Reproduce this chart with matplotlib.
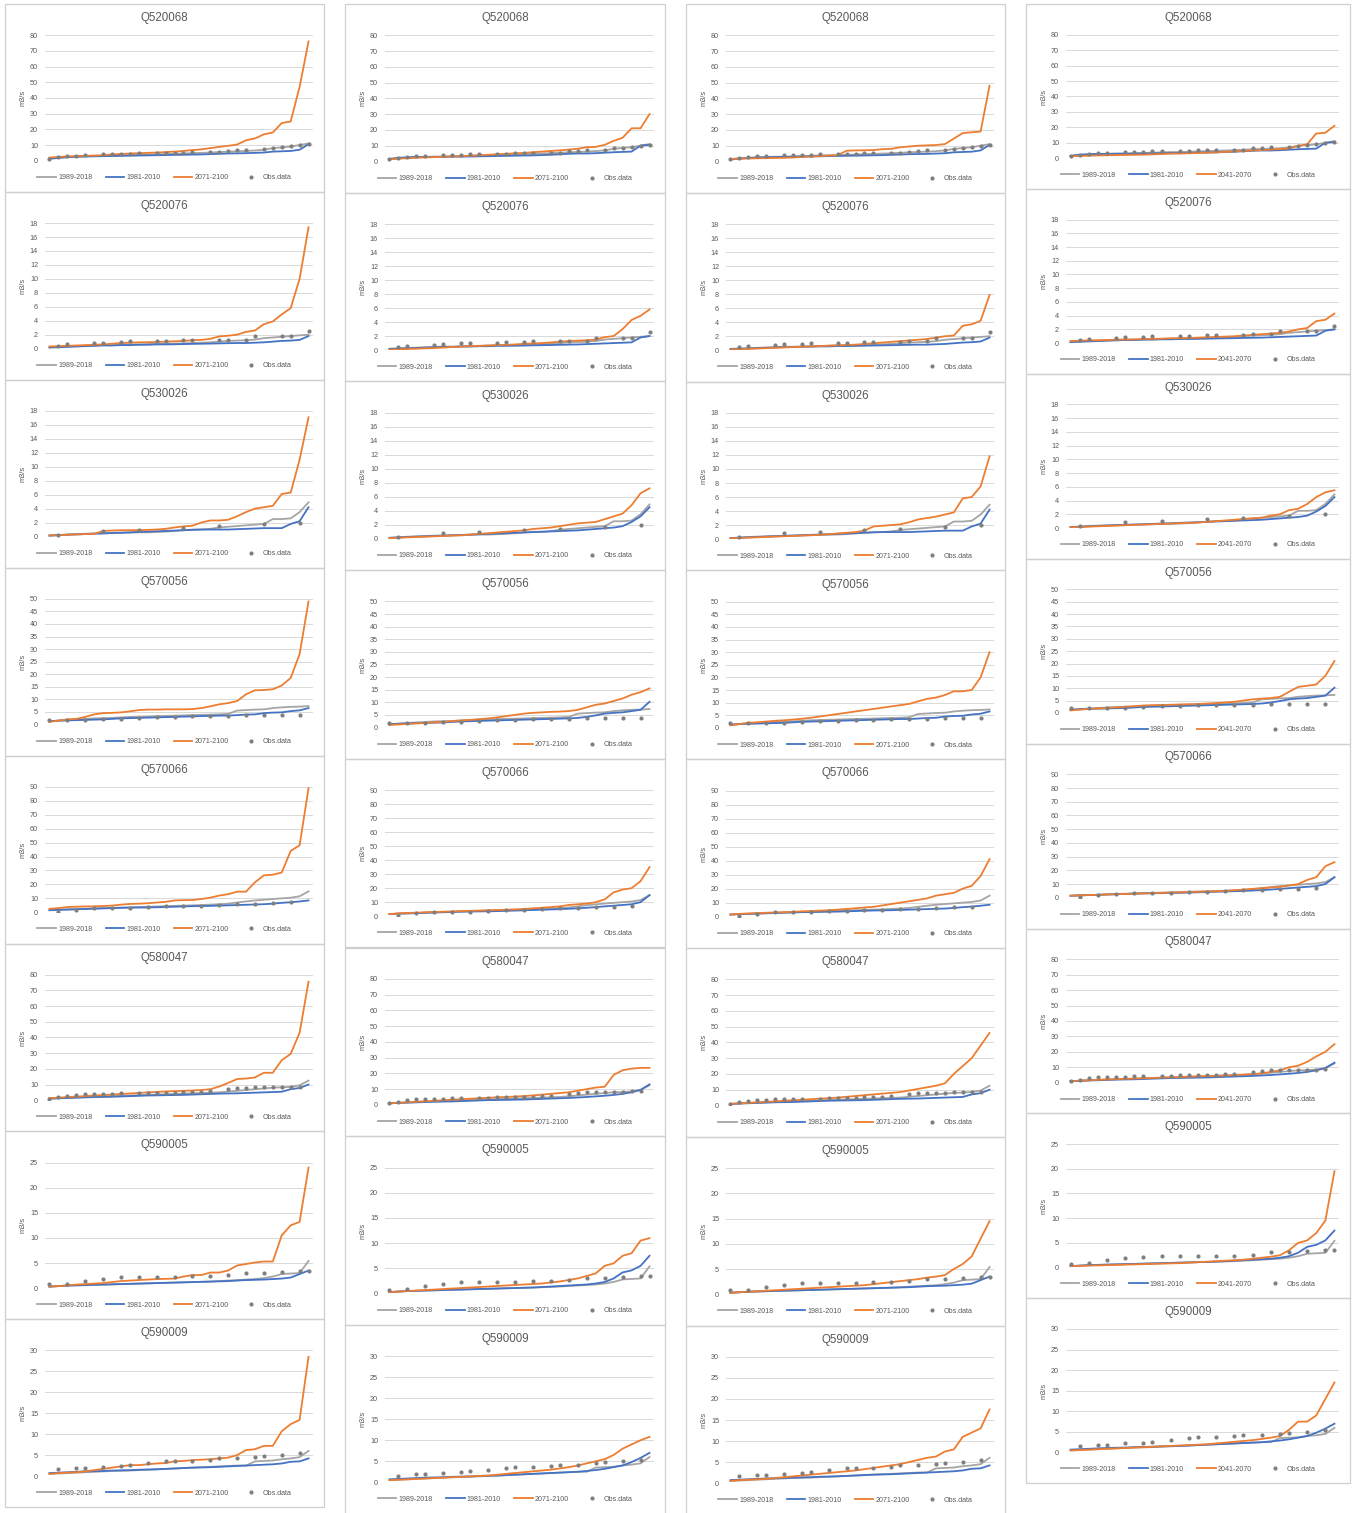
import numpy as np
import matplotlib
matplotlib.use("Agg")
import matplotlib.pyplot as plt
from matplotlib.patches import Rectangle

nan = np.nan

stations = ["Q520068", "Q520076", "Q530026", "Q570056", "Q570066", "Q580047", "Q590005", "Q590009"]
y_max = [80, 18, 18, 50, 90, 80, 25, 30]
y_step = [10, 2, 2, 5, 10, 10, 5, 5]
future_labels = ["2071-2100", "2071-2100", "2071-2100", "2041-2070"]
hist_labels = ["1989-2018", "1981-2010", "Obs.data"]

# ---------------- Q520068 ----------------
q520068_gray = [1.5, 2, 2.3, 2.6, 2.8, 3, 3, 3.2, 3.4, 3.6, 3.8, 4, 4, 4.2, 4.4, 4.6, 4.8, 5, 5.2, 5.5, 5.8, 6, 6.2, 6.5, 7, 8, 8.5, 9, 10, 11]
q520068_blue_a = [1.2, 1.8, 2.2, 2.5, 2.7, 2.8, 2.9, 3, 3.1, 3.2, 3.3, 3.4, 3.5, 3.6, 3.7, 3.8, 3.9, 4, 4.2, 4.4, 4.6, 4.7, 4.8, 5, 5.2, 5.8, 6, 6.2, 7, 10.5]
q520068_blue_b = [1.5, 2.3, 2.6, 2.8, 2.8, 2.9, 2.9, 3.0, 3.0, 3.1, 3.2, 3.3, 3.4, 3.5, 3.6, 3.7, 3.8, 4.0, 4.2, 4.5, 4.8, 5.0, 5.0, 5.2, 5.5, 5.8, 6.0, 6.2, 10, 10.5]
q520068_obs = [1.3, 2.2, 2.7, 3.2, 3.4, nan, 4, 4.1, 4.2, 4.4, 4.6, nan, 4.7, 4.8, 5, 5.1, 5.3, nan, 5.4, 5.6, 6.3, 6.6, 7.1, nan, 7.5, 8.2, 8.8, 9.3, 9.8, 10.7]
q520068_fut1 = [2, 2.4, 2.7, 3, 3.1, 3.3, 3.5, 4, 4.3, 4.6, 4.8, 5, 5.2, 5.5, 5.8, 6.2, 6.8, 7.2, 8, 8.8, 9.5, 10.3, 13, 14.2, 16.8, 18, 24, 25, 47, 76]
q520068_fut2 = [1.3, 1.7, 2.0, 2.3, 2.5, 2.7, 2.9, 3.1, 3.3, 3.6, 3.9, 4.2, 4.5, 4.8, 5.1, 5.4, 5.8, 6.2, 6.6, 7.0, 7.5, 8.0, 9.0, 9.2, 10.5, 13, 15, 21, 21, 30]
q520068_fut3 = [1.5, 1.7, 1.9, 2.0, 2.1, 2.2, 2.3, 2.5, 2.8, 3.1, 3.4, 3.7, 4.0, 6.8, 7, 7.1, 7.2, 7.8, 8, 9, 9.5, 10, 10.2, 10.4, 11, 14.5, 18, 18.5, 19, 48]
q520068_fut4 = [1.3, 1.5, 1.6, 1.8, 1.9, 2.0, 2.1, 2.2, 2.3, 2.5, 2.7, 2.9, 3.0, 3.2, 3.4, 3.6, 3.8, 4.1, 4.4, 4.7, 5.0, 5.3, 5.6, 5.9, 6.3, 8.0, 9.0, 16, 16.5, 21]

# ---------------- Q520076 ----------------
q520076_gray = [0.2, 0.25, 0.3, 0.35, 0.4, 0.45, 0.5, 0.5, 0.55, 0.6, 0.6, 0.65, 0.7, 0.7, 0.72, 0.75, 0.8, 0.85, 0.9, 1.0, 1.1, 1.15, 1.2, 1.3, 1.5, 1.6, 1.7, 1.8, 1.9, 2.0]
q520076_blue_a = [0.15, 0.2, 0.25, 0.3, 0.35, 0.4, 0.45, 0.45, 0.5, 0.5, 0.55, 0.55, 0.6, 0.6, 0.62, 0.65, 0.68, 0.7, 0.72, 0.75, 0.78, 0.8, 0.8, 0.85, 0.9, 1.0, 1.1, 1.15, 1.25, 1.8]
q520076_blue_b = [0.15, 0.2, 0.25, 0.3, 0.35, 0.4, 0.45, 0.45, 0.5, 0.5, 0.55, 0.55, 0.6, 0.6, 0.62, 0.65, 0.68, 0.7, 0.72, 0.75, 0.78, 0.8, 0.85, 0.9, 0.95, 1.0, 1.05, 1.1, 1.8, 2.0]
q520076_obs = [nan, 0.4, 0.6, nan, nan, 0.75, 0.85, nan, 0.95, 1.05, nan, nan, 1.05, 1.1, nan, 1.2, 1.25, nan, nan, 1.25, 1.3, nan, 1.3, 1.75, nan, nan, 1.75, 1.75, nan, 2.55]
q520076_fut1 = [0.3, 0.35, 0.4, 0.45, 0.5, 0.55, 0.6, 0.7, 0.8, 0.85, 0.9, 0.92, 0.95, 1.0, 1.05, 1.1, 1.2, 1.25, 1.4, 1.75, 1.85, 2.0, 2.4, 2.6, 3.5, 3.9, 4.9, 5.8, 10, 17.4]
q520076_fut2 = [0.05, 0.1, 0.15, 0.2, 0.25, 0.3, 0.35, 0.45, 0.5, 0.55, 0.6, 0.65, 0.7, 0.75, 0.8, 0.9, 0.95, 1.0, 1.1, 1.2, 1.3, 1.35, 1.4, 1.5, 1.85, 2.0, 3.0, 4.3, 4.9, 5.8]
q520076_fut3 = [0.1, 0.15, 0.2, 0.25, 0.3, 0.35, 0.4, 0.45, 0.5, 0.55, 0.6, 0.65, 0.7, 0.75, 0.8, 0.9, 1.0, 1.1, 1.2, 1.3, 1.4, 1.5, 1.6, 1.8, 2.0, 2.1, 3.5, 3.7, 4.2, 7.9]
q520076_fut4 = [0.3, 0.35, 0.4, 0.42, 0.45, 0.5, 0.52, 0.55, 0.6, 0.62, 0.65, 0.7, 0.72, 0.75, 0.8, 0.85, 0.9, 0.95, 1.0, 1.1, 1.2, 1.3, 1.4, 1.5, 1.7, 2.0, 2.2, 3.2, 3.4, 4.3]

# ---------------- Q530026 ----------------
q530026_gray = [0.1, 0.2, 0.3, 0.35, 0.4, 0.45, 0.45, 0.5, 0.5, 0.55, 0.6, 0.6, 0.65, 0.7, 0.8, 0.9, 1.0, 1.0, 1.1, 1.3, 1.4, 1.5, 1.6, 1.7, 1.8, 2.5, 2.5, 2.6, 3.5, 4.9]
q530026_blue_a = [0.15, 0.2, 0.25, 0.3, 0.35, 0.4, 0.45, 0.5, 0.55, 0.6, 0.65, 0.7, 0.75, 0.8, 0.85, 0.9, 0.95, 1.0, 1.0, 1.0, 1.0, 1.05, 1.1, 1.15, 1.2, 1.2, 1.2, 1.8, 2.2, 4.2]
q530026_blue_b = [0.15, 0.2, 0.25, 0.3, 0.35, 0.4, 0.45, 0.5, 0.55, 0.6, 0.65, 0.7, 0.75, 0.8, 0.85, 0.9, 0.95, 1.0, 1.05, 1.1, 1.15, 1.2, 1.3, 1.4, 1.5, 1.6, 1.8, 2.4, 3.2, 4.5]
q530026_obs = [nan, 0.25, nan, nan, nan, nan, 0.85, nan, nan, nan, 1.0, nan, nan, nan, nan, 1.25, nan, nan, nan, 1.45, nan, nan, nan, nan, 1.75, nan, nan, nan, 2.0, nan]
q530026_fut1 = [0.15, 0.2, 0.25, 0.3, 0.35, 0.38, 0.8, 0.85, 0.9, 0.9, 0.92, 0.95, 1.0, 1.1, 1.3, 1.45, 1.55, 2.0, 2.3, 2.3, 2.4, 2.9, 3.5, 4.0, 4.2, 4.4, 6.1, 6.3, 11, 17.1]
q530026_fut2 = [0.1, 0.15, 0.2, 0.25, 0.3, 0.35, 0.4, 0.45, 0.5, 0.6, 0.7, 0.8, 0.9, 1.0, 1.1, 1.2, 1.4, 1.5, 1.6, 1.8, 2.0, 2.2, 2.3, 2.4, 2.8, 3.2, 3.6, 4.8, 6.5, 7.2]
q530026_fut3 = [0.1, 0.15, 0.2, 0.25, 0.3, 0.35, 0.4, 0.45, 0.5, 0.55, 0.6, 0.7, 0.8, 0.9, 1.0, 1.2, 1.8, 1.9, 2.0, 2.1, 2.4, 2.8, 3.0, 3.2, 3.5, 3.8, 5.8, 6.0, 7.5, 11.8]
q530026_fut4 = [0.1, 0.15, 0.2, 0.25, 0.3, 0.35, 0.4, 0.45, 0.5, 0.55, 0.6, 0.65, 0.7, 0.75, 0.8, 0.9, 1.0, 1.1, 1.2, 1.3, 1.4, 1.5, 1.8, 2.0, 2.6, 2.8, 3.5, 4.5, 5.2, 5.5]

# ---------------- Q570056 ----------------
q570056_gray = [1.2, 1.5, 1.8, 2.0, 2.2, 2.4, 2.5, 2.6, 2.8, 3.0, 3.1, 3.2, 3.3, 3.4, 3.5, 3.6, 3.7, 3.8, 3.9, 4.0, 4.2, 5.5, 5.7, 5.9, 6.0, 6.5, 6.8, 7.0, 7.1, 7.3]
q570056_blue_a = [1.3, 1.5, 1.6, 1.7, 1.8, 1.9, 2.0, 2.2, 2.4, 2.5, 2.6, 2.7, 2.8, 2.9, 3.0, 3.1, 3.2, 3.3, 3.4, 3.5, 3.5, 3.7, 3.9, 4.0, 4.5, 4.7, 4.8, 5.3, 5.6, 6.5]
q570056_blue_b = [1.3, 1.5, 1.6, 1.7, 1.8, 1.9, 2.0, 2.2, 2.4, 2.5, 2.6, 2.7, 2.8, 2.9, 3.0, 3.1, 3.2, 3.3, 3.4, 3.5, 3.6, 3.8, 4.2, 4.8, 5.5, 5.8, 6.0, 6.5, 7.0, 10.2]
q570056_obs = [1.8, nan, 1.8, nan, 1.9, nan, 2.0, nan, 2.3, nan, 2.6, nan, 2.9, nan, 3.0, nan, 3.3, nan, 3.4, nan, 3.4, nan, 3.6, nan, 3.8, nan, 3.8, nan, 3.8, nan]
q570056_fut1 = [1.0, 1.5, 2.0, 2.2, 3.0, 4.0, 4.5, 4.6, 4.8, 5.2, 5.7, 5.9, 5.9, 6.0, 6.0, 6.0, 6.1, 6.5, 7.2, 8.0, 8.5, 9.3, 12, 13.6, 13.7, 14, 15.5, 18.5, 28, 49]
q570056_fut2 = [1.0, 1.2, 1.4, 1.6, 1.8, 2.0, 2.2, 2.5, 2.8, 3.0, 3.3, 3.6, 4.0, 4.5, 5.0, 5.5, 5.8, 6.0, 6.2, 6.3, 6.5, 7.0, 8.0, 9.0, 9.5, 10.5, 11.5, 13, 14, 15.5]
q570056_fut3 = [1.0, 1.5, 2.0, 2.2, 2.5, 2.8, 3.0, 3.3, 3.6, 4.0, 4.5, 5.0, 5.5, 6.0, 6.5, 7.0, 7.5, 8.0, 8.5, 9.0, 9.5, 10.5, 11.5, 12, 13, 14.5, 14.5, 15, 20, 30]
q570056_fut4 = [1.0, 1.3, 1.6, 1.8, 2.0, 2.2, 2.5, 2.7, 3.0, 3.1, 3.2, 3.3, 3.4, 3.5, 3.6, 3.8, 4.0, 4.2, 4.5, 5.0, 5.5, 5.8, 6.0, 6.5, 8.5, 10.5, 11, 11.5, 15, 21]

# ---------------- Q570066 ----------------
q570066_gray = [1.5, 1.8, 2.0, 2.2, 2.5, 2.8, 3.0, 3.2, 3.4, 3.6, 3.8, 4.0, 4.2, 4.4, 4.6, 4.8, 5.0, 5.2, 5.5, 5.8, 6.2, 7.0, 7.8, 8.5, 9.0, 9.5, 10, 10.5, 11.5, 15]
q570066_blue_a = [1.5, 1.8, 2.0, 2.2, 2.4, 2.6, 2.8, 3.0, 3.2, 3.3, 3.4, 3.5, 3.6, 3.8, 4.0, 4.2, 4.4, 4.5, 4.6, 4.8, 5.0, 5.2, 5.4, 5.6, 5.8, 6.2, 6.8, 7.2, 7.8, 8.5]
q570066_blue_b = [1.5, 1.8, 2.0, 2.2, 2.4, 2.6, 2.8, 3.0, 3.2, 3.3, 3.4, 3.5, 3.6, 3.8, 4.0, 4.2, 4.4, 4.6, 4.8, 5.0, 5.3, 5.6, 6.0, 6.5, 7.0, 7.5, 8.0, 8.5, 10, 15]
q570066_obs = [nan, 0.3, nan, 2.0, nan, 3.0, nan, 3.2, nan, 3.3, nan, 3.8, nan, 4.3, nan, 4.5, nan, 4.8, nan, 5.5, nan, 5.8, nan, 6.3, nan, 6.6, nan, 7.1, nan, nan]
q570066_fut1 = [2.5, 3.0, 3.8, 4.0, 4.2, 4.3, 4.5, 4.8, 5.5, 6.0, 6.2, 6.5, 7.0, 7.5, 8.5, 8.7, 8.8, 9.5, 10.5, 12, 13, 14.8, 14.8, 21.5, 26.5, 27, 28.5, 44, 48, 89]
q570066_fut2 = [1.5, 2.0, 2.3, 2.5, 2.8, 3.0, 3.2, 3.4, 3.6, 3.8, 4.0, 4.2, 4.4, 4.6, 4.8, 5.2, 5.6, 6.0, 6.5, 7.0, 8.0, 8.5, 9.0, 10, 12, 17, 19, 20, 25, 35]
q570066_fut3 = [1.5, 2.0, 2.3, 2.5, 2.8, 3.0, 3.2, 3.5, 3.8, 4.0, 4.3, 4.6, 5.0, 5.5, 6.0, 6.5, 7.0, 8.0, 9.0, 10, 11, 12, 13, 15, 16, 17, 20, 22, 29, 41]
q570066_fut4 = [1.5, 1.8, 2.0, 2.2, 2.4, 2.6, 2.8, 3.0, 3.2, 3.4, 3.6, 3.8, 4.0, 4.2, 4.4, 4.6, 4.8, 5.0, 5.5, 6.0, 6.5, 7.0, 7.5, 8.0, 9.0, 10, 13, 15, 23, 26]

# ---------------- Q580047 ----------------
q580047_gray = [1.0, 1.3, 1.6, 1.8, 2.0, 2.2, 2.4, 2.6, 2.8, 3.0, 3.2, 3.4, 3.6, 3.8, 4.0, 4.2, 4.4, 4.6, 4.8, 5.0, 5.5, 6.0, 6.5, 7.0, 7.5, 8.0, 8.2, 8.5, 9.5, 12.5]
q580047_blue_a = [1.0, 1.2, 1.4, 1.6, 1.8, 2.0, 2.1, 2.2, 2.4, 2.6, 2.8, 3.0, 3.1, 3.2, 3.3, 3.4, 3.6, 3.8, 4.0, 4.2, 4.3, 4.4, 4.6, 4.8, 5.0, 5.2, 5.4, 7.0, 7.8, 10]
q580047_blue_b = [1.0, 1.2, 1.4, 1.6, 1.8, 2.0, 2.1, 2.2, 2.4, 2.6, 2.8, 3.0, 3.1, 3.2, 3.3, 3.4, 3.6, 3.8, 4.0, 4.2, 4.4, 4.7, 5.0, 5.4, 5.8, 6.3, 7.0, 8.0, 9.5, 13]
q580047_obs = [1.0, 2.0, 3.0, 3.6, 3.7, 3.8, 4.0, 4.1, 4.3, nan, 4.4, 4.5, 4.7, 4.8, 4.9, 5.1, 5.3, 5.5, 5.8, nan, 7.0, 7.6, 8.0, 8.1, 8.2, 8.3, 8.4, 8.5, 8.7, nan]
q580047_fut1 = [1.3, 1.6, 2.0, 2.3, 2.6, 3.0, 3.3, 3.6, 4.0, 4.3, 4.6, 5.0, 5.3, 5.6, 5.8, 6.0, 6.2, 6.5, 7.0, 8.7, 11, 13.5, 13.8, 14.5, 17.5, 17.5, 25.5, 29.5, 43, 75.5]
q580047_fut2 = [1.0, 1.3, 1.6, 2.0, 2.3, 2.6, 3.0, 3.3, 3.6, 3.9, 4.2, 4.5, 4.8, 5.0, 5.3, 5.6, 6.0, 6.5, 7.0, 7.5, 8.0, 9.0, 10, 11, 11.5, 19, 22, 23, 23.5, 23.5]
q580047_fut3 = [1.0, 1.3, 1.6, 2.0, 2.3, 2.6, 3.0, 3.3, 3.6, 4.0, 4.3, 4.6, 5.0, 5.5, 6.0, 6.5, 7.0, 7.5, 8.0, 8.5, 9.5, 10.5, 11.5, 12.5, 14, 20, 25, 30, 38, 46]
q580047_fut4 = [1.0, 1.3, 1.6, 1.9, 2.1, 2.3, 2.5, 2.7, 2.9, 3.1, 3.3, 3.5, 3.7, 3.9, 4.1, 4.3, 4.5, 4.7, 5.0, 5.3, 5.6, 6.0, 7.0, 8.0, 10, 11, 13.5, 17, 20, 25]

# ---------------- Q590005 ----------------
q590005_gray = [0.3, 0.4, 0.5, 0.55, 0.6, 0.65, 0.7, 0.75, 0.8, 0.85, 0.9, 0.95, 1.0, 1.05, 1.1, 1.15, 1.2, 1.25, 1.3, 1.4, 1.5, 1.6, 1.7, 1.8, 2.0, 2.3, 2.8, 2.9, 3.0, 5.4]
q590005_blue_a = [0.3, 0.4, 0.5, 0.55, 0.6, 0.65, 0.7, 0.75, 0.8, 0.85, 0.9, 0.95, 1.0, 1.05, 1.1, 1.15, 1.2, 1.25, 1.3, 1.35, 1.4, 1.5, 1.6, 1.65, 1.7, 1.8, 1.9, 2.1, 2.8, 3.5]
q590005_blue_b = [0.3, 0.4, 0.5, 0.55, 0.6, 0.65, 0.7, 0.75, 0.8, 0.85, 0.9, 0.95, 1.0, 1.05, 1.1, 1.15, 1.2, 1.3, 1.4, 1.5, 1.6, 1.7, 1.8, 2.0, 2.3, 3.0, 4.2, 4.6, 5.5, 7.5]
q590005_obs = [0.8, nan, 0.9, nan, 1.5, nan, 1.9, nan, 2.2, nan, 2.3, nan, 2.3, nan, 2.3, nan, 2.4, nan, 2.4, nan, 2.6, nan, 3.1, nan, 3.1, nan, 3.3, nan, 3.5, 3.5]
q590005_fut1 = [0.3, 0.4, 0.55, 0.7, 0.8, 0.9, 1.0, 1.2, 1.4, 1.5, 1.6, 1.7, 1.8, 1.85, 1.9, 2.3, 2.6, 2.6, 3.1, 3.1, 3.5, 4.5, 4.8, 5.1, 5.3, 5.3, 10.5, 12.5, 13.2, 24]
q590005_fut2 = [0.3, 0.4, 0.5, 0.6, 0.7, 0.8, 0.9, 1.0, 1.1, 1.2, 1.3, 1.4, 1.5, 1.6, 1.7, 1.8, 1.9, 2.0, 2.2, 2.4, 2.7, 3.0, 3.5, 4.0, 5.5, 6.0, 7.5, 8.0, 10.5, 11]
q590005_fut3 = [0.3, 0.4, 0.5, 0.6, 0.7, 0.8, 0.9, 1.0, 1.1, 1.2, 1.3, 1.4, 1.5, 1.6, 1.7, 1.8, 2.0, 2.2, 2.4, 2.6, 2.8, 3.0, 3.3, 3.5, 3.8, 5.0, 6.0, 7.5, 11, 14.5]
q590005_fut4 = [0.3, 0.35, 0.4, 0.45, 0.5, 0.55, 0.6, 0.65, 0.7, 0.75, 0.8, 0.85, 0.9, 1.0, 1.1, 1.2, 1.3, 1.4, 1.5, 1.6, 1.8, 2.0, 2.2, 2.5, 3.5, 5.0, 5.5, 7.0, 9.5, 19.5]

# ---------------- Q590009 ----------------
q590009_gray = [0.5, 0.6, 0.7, 0.8, 0.9, 1.0, 1.1, 1.2, 1.25, 1.3, 1.4, 1.5, 1.6, 1.7, 1.8, 1.9, 2.0, 2.1, 2.2, 2.3, 2.4, 2.5, 2.5, 3.5, 3.6, 3.7, 4.0, 4.2, 4.5, 6.0]
q590009_blue_a = [0.7, 0.8, 0.9, 1.0, 1.1, 1.15, 1.2, 1.3, 1.35, 1.4, 1.5, 1.55, 1.6, 1.7, 1.8, 1.9, 2.0, 2.05, 2.1, 2.2, 2.3, 2.4, 2.5, 2.6, 2.7, 2.8, 3.0, 3.4, 3.5, 4.2]
q590009_blue_b = [0.7, 0.8, 0.9, 1.0, 1.1, 1.15, 1.2, 1.3, 1.35, 1.4, 1.5, 1.55, 1.6, 1.7, 1.8, 1.9, 2.0, 2.1, 2.2, 2.3, 2.4, 2.5, 2.7, 2.9, 3.2, 3.6, 4.0, 4.8, 5.8, 7.0]
q590009_obs = [nan, 1.6, nan, 1.9, 1.9, nan, 2.2, nan, 2.4, 2.6, nan, 3.0, nan, 3.5, 3.7, nan, 3.7, nan, 3.9, 4.2, nan, 4.2, nan, 4.6, 4.8, nan, 5.0, nan, 5.4, nan]
q590009_fut1 = [0.5, 0.7, 0.8, 0.9, 1.1, 1.4, 1.7, 2.0, 2.3, 2.6, 2.6, 2.8, 3.0, 3.1, 3.5, 3.6, 3.8, 3.9, 4.0, 4.2, 4.4, 5.0, 6.2, 6.4, 7.2, 7.2, 10.7, 12.4, 13.4, 28.5]
q590009_fut2 = [0.5, 0.6, 0.7, 0.8, 0.9, 1.0, 1.1, 1.2, 1.3, 1.4, 1.5, 1.6, 1.8, 2.0, 2.2, 2.4, 2.6, 2.8, 3.0, 3.3, 3.6, 4.0, 4.5, 5.0, 5.5, 6.5, 8.0, 9.0, 10, 10.8]
q590009_fut3 = [0.5, 0.7, 0.8, 0.9, 1.0, 1.2, 1.4, 1.6, 1.8, 2.0, 2.2, 2.4, 2.6, 2.8, 3.0, 3.3, 3.6, 3.9, 4.2, 4.5, 5.0, 5.5, 6.0, 6.3, 7.5, 8.0, 11, 12, 13, 17.5]
q590009_fut4 = [0.5, 0.6, 0.7, 0.8, 0.9, 1.0, 1.1, 1.2, 1.3, 1.4, 1.5, 1.6, 1.7, 1.8, 1.9, 2.0, 2.2, 2.4, 2.6, 2.8, 3.0, 3.3, 3.6, 4.0, 5.5, 7.5, 7.5, 9.0, 13, 17]

hist = {
    "Q520068": (q520068_gray, q520068_obs),
    "Q520076": (q520076_gray, q520076_obs),
    "Q530026": (q530026_gray, q530026_obs),
    "Q570056": (q570056_gray, q570056_obs),
    "Q570066": (q570066_gray, q570066_obs),
    "Q580047": (q580047_gray, q580047_obs),
    "Q590005": (q590005_gray, q590005_obs),
    "Q590009": (q590009_gray, q590009_obs),
}
blue_by_col = {
    "Q520068": (q520068_blue_a, q520068_blue_b, q520068_blue_a, q520068_blue_b),
    "Q520076": (q520076_blue_a, q520076_blue_b, q520076_blue_a, q520076_blue_b),
    "Q530026": (q530026_blue_a, q530026_blue_b, q530026_blue_a, q530026_blue_b),
    "Q570056": (q570056_blue_a, q570056_blue_b, q570056_blue_a, q570056_blue_b),
    "Q570066": (q570066_blue_a, q570066_blue_b, q570066_blue_a, q570066_blue_b),
    "Q580047": (q580047_blue_a, q580047_blue_b, q580047_blue_a, q580047_blue_b),
    "Q590005": (q590005_blue_a, q590005_blue_b, q590005_blue_a, q590005_blue_b),
    "Q590009": (q590009_blue_a, q590009_blue_b, q590009_blue_a, q590009_blue_b),
}
future = {
    "Q520068": (q520068_fut1, q520068_fut2, q520068_fut3, q520068_fut4),
    "Q520076": (q520076_fut1, q520076_fut2, q520076_fut3, q520076_fut4),
    "Q530026": (q530026_fut1, q530026_fut2, q530026_fut3, q530026_fut4),
    "Q570056": (q570056_fut1, q570056_fut2, q570056_fut3, q570056_fut4),
    "Q570066": (q570066_fut1, q570066_fut2, q570066_fut3, q570066_fut4),
    "Q580047": (q580047_fut1, q580047_fut2, q580047_fut3, q580047_fut4),
    "Q590005": (q590005_fut1, q590005_fut2, q590005_fut3, q590005_fut4),
    "Q590009": (q590009_fut1, q590009_fut2, q590009_fut3, q590009_fut4),
}

# ---------------- layout (pixels) ----------------
W, H = 1357, 1513
col_x = [(5, 324), (345, 665), (686, 1005), (1026, 1350)]
col_top = [4, 4, 4, 4]
col_h = [187.9, 188.7, 188.8, 184.9]

C_GRAY = "#a5a5a5"
C_BLUE = "#4472c4"
C_ORANGE = "#ed7d31"
C_OBS = "#7f7f7f"
C_TEXT = "#595959"
C_GRID = "#d9d9d9"
FONT = "Liberation Sans"

plt.rcParams["font.family"] = FONT
fig = plt.figure(figsize=(W / 100, H / 100), dpi=100)
fig.patch.set_facecolor("white")


def fx(px):
    return px / W


def fy(py):
    return 1 - py / H


for c in range(4):
    L, R = col_x[c]
    for r, name in enumerate(stations):
        h = col_h[c]
        T = col_top[c] + r * h
        fig.add_artist(Rectangle((fx(L), fy(T + h)), (R - L) / W, h / H,
                                 transform=fig.transFigure, fill=False,
                                 edgecolor="#cfcfcf", lw=0.9))
        ax_l, ax_r = L + 40, R - 11
        ax_t, ax_b = T + 0.166 * h, T + 0.834 * h
        ax = fig.add_axes([fx(ax_l), fy(ax_b), (ax_r - ax_l) / W, (ax_b - ax_t) / H])
        gray, obs = hist[name]
        blue = blue_by_col[name][c]
        fut = future[name][c]
        x = np.arange(len(gray))
        ax.plot(x, gray, color=C_GRAY, lw=1.3, label=hist_labels[0], zorder=3)
        ax.plot(x, blue, color=C_BLUE, lw=1.3, label=hist_labels[1], zorder=3)
        ax.plot(x, fut, color=C_ORANGE, lw=1.3, label=future_labels[c], zorder=3)
        ax.plot(x, obs, ls="none", marker="o", ms=3.0, color=C_OBS,
                markeredgewidth=0, label=hist_labels[2], zorder=4)
        ax.set_xlim(-0.5, len(gray) - 0.5)
        ax.set_ylim(0, y_max[r])
        ax.set_yticks(np.arange(0, y_max[r] + 0.01, y_step[r]))
        ax.set_xticks([])
        ax.grid(axis="y", color=C_GRID, lw=0.7)
        ax.set_axisbelow(True)
        for s in ax.spines.values():
            s.set_visible(False)
        ax.tick_params(axis="y", length=0, pad=5, labelsize=5.2, labelcolor=C_TEXT)
        ax.patch.set_alpha(0)

        cx = (L + R) / 2
        fig.text(fx(cx), fy(T + 0.075 * h), name, ha="center", va="center",
                 fontsize=8.3, color=C_TEXT)
        fig.text(fx(L + 18), fy((ax_t + ax_b) / 2), "m3/s", rotation=90,
                 ha="center", va="center", fontsize=5.4, color=C_TEXT)
        ax.legend(loc="center", bbox_to_anchor=(fx(cx), fy(T + 0.925 * h)),
                  bbox_transform=fig.transFigure, ncol=4, frameon=False,
                  fontsize=5.1, labelcolor=C_TEXT, handlelength=2.6,
                  handletextpad=0.3, columnspacing=1.9, borderpad=0)

fig.savefig("out.png", dpi=100, facecolor="white")
